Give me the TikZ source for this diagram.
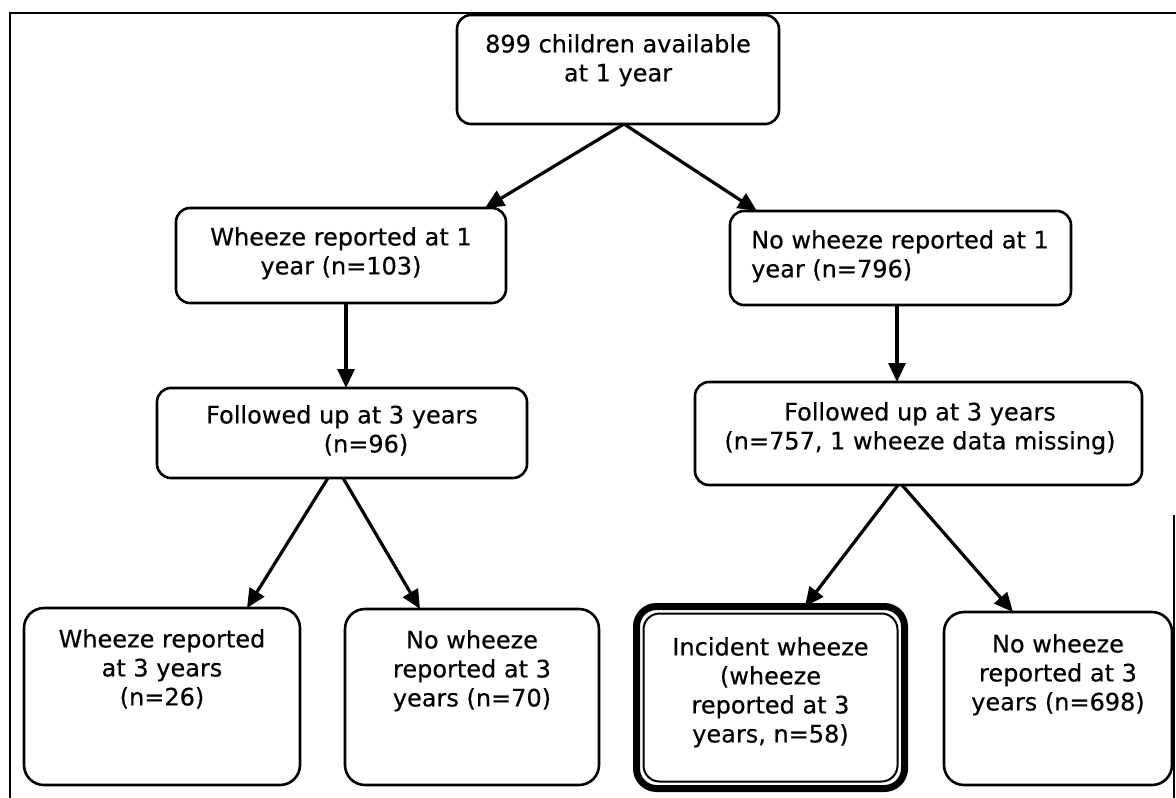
\documentclass[tikz,border=0pt]{standalone}
\usepackage{fontspec}
\setmainfont[FakeBold=0.4]{DejaVu Sans}
\usetikzlibrary{arrows.meta}
\begin{document}
\begin{tikzpicture}[x=1pt,y=-1pt,
  box/.style={draw, line width=2.6pt, rounded corners=14pt, inner sep=0pt, outer sep=0pt},
  bigbox/.style={box, rounded corners=20pt},
  lbl/.style={font=\fontsize{24}{29}\selectfont, align=center, inner sep=0pt, anchor=north},
  arr/.style={line width=3.2pt, -{Triangle[length=19pt,width=17pt]}},
  frame/.style={line width=2.6pt}
]
\useasboundingbox (0,0) rectangle (1176,798);
\fill[white] (0,0) rectangle (1176,798);
% outer frame
\draw[frame] (10,798) -- (10,13) -- (1176,13);
\draw[frame] (1174,515) -- (1174,798);

% boxes
\node[box, minimum width=322pt, minimum height=109pt] (top) at (618,69.5) {};
\node[box, minimum width=330pt, minimum height=95pt] (w1) at (341,255.5) {};
\node[box, minimum width=341pt, minimum height=94pt] (nw1) at (900.5,258) {};
\node[box, minimum width=370pt, minimum height=90pt] (f3a) at (342,433) {};
\node[box, minimum width=447pt, minimum height=103pt] (f3b) at (918.5,433.5) {};
\node[bigbox, minimum width=276pt, minimum height=177pt] (w3) at (162,696.5) {};
\node[bigbox, minimum width=254pt, minimum height=176pt] (nw3a) at (472,697) {};
\node[bigbox, line width=7pt, minimum width=268pt, minimum height=182pt] (inc) at (770.5,697.5) {};
\node[box, line width=2pt, rounded corners=16pt, minimum width=254pt, minimum height=168pt] (incin) at (770.5,697.5) {};
\node[bigbox, minimum width=228pt, minimum height=173pt] (nw3b) at (1058,698.5) {};

% texts
\node[lbl] (t1) at (618,34) {899 children available\\at 1 year};
\node[lbl] (t2) at (341,227) {Wheeze reported at 1\\year (n=103)};
\node[lbl, align=left, anchor=north west] (t3) at (751,230) {No wheeze reported at 1\\year (n=796)};
\node[lbl] (t4) at (342,405) {Followed up at 3 years\\\hspace*{48pt}(n=96)};
\node[lbl] (t5) at (920,402) {Followed up at 3 years\\(n=757, 1 wheeze data missing)};
\node[lbl] (t6) at (162,629) {Wheeze reported\\at 3 years\\(n=26)};
\node[lbl] (t7) at (472,630) {No wheeze\\reported at 3\\years (n=70)};
\node[lbl] (t8) at (770.5,637) {Incident wheeze\\(wheeze\\reported at 3\\years, n=58)};
\node[lbl] (t9) at (1058,634) {No wheeze\\reported at 3\\years (n=698)};

% arrows
\draw[arr] ([xshift=6pt]top.south) -- ([xshift=144pt]w1.north);
\draw[arr] ([xshift=6pt]top.south) -- ([xshift=-143.5pt]nw1.north);
\draw[arr] ([xshift=5pt]w1.south) -- ([xshift=4pt]f3a.north);
\draw[arr] ([xshift=-3.5pt]nw1.south) -- ([xshift=-21.5pt]f3b.north);
\draw[arr] ([xshift=-14pt]f3a.south) -- ([xshift=85pt]w3.north);
\draw[arr] ([xshift=1pt]f3a.south) -- ([xshift=-52pt]nw3a.north);
\draw[arr] ([xshift=-20.5pt]f3b.south) -- ([xshift=34.5pt]inc.north);
\draw[arr] ([xshift=-16.5pt]f3b.south) -- ([xshift=-45pt]nw3b.north);
\end{tikzpicture}
\end{document}
